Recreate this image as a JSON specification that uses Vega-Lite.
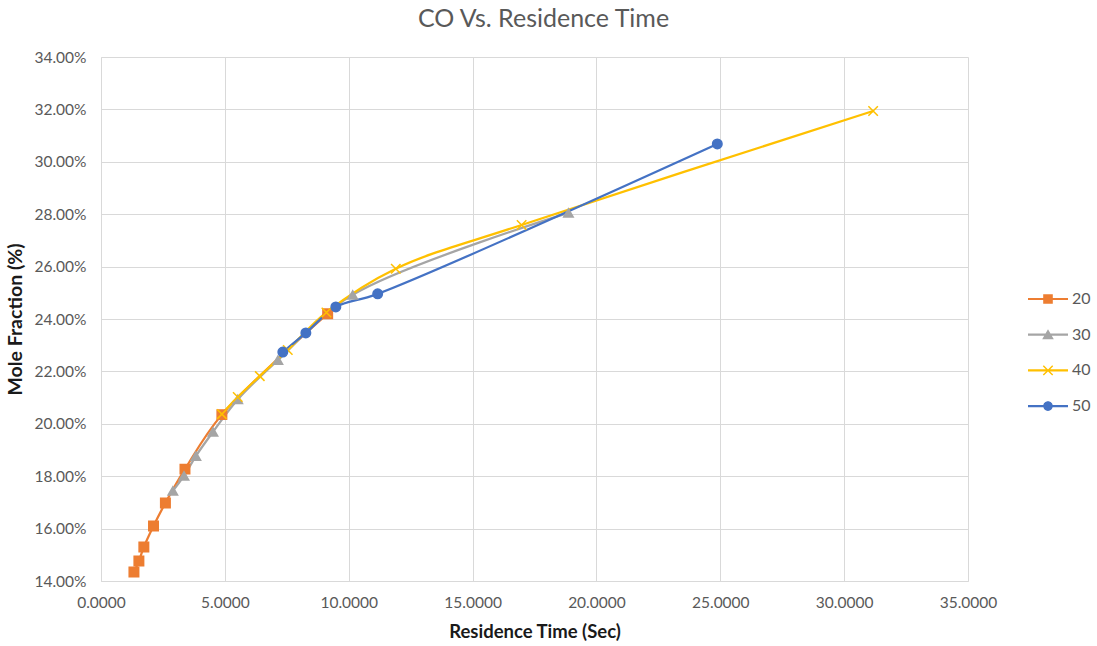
{
  "$schema": "https://vega.github.io/schema/vega-lite/v6.json",
  "autosize": {"type": "none"},
  "padding": {"left": 101, "top": 57, "right": 129, "bottom": 65},
  "width": 867,
  "height": 524,
  "background": "white",
  "title": {
    "text": "CO Vs. Residence Time",
    "anchor": "middle",
    "frame": "group",
    "dx": 9,
    "offset": 18,
    "font": "Lato",
    "fontSize": 25,
    "fontWeight": "normal",
    "color": "#595959"
  },
  "data": {
    "values": [
      {"series": "20", "time": 1.33, "co": 0.1434},
      {"series": "20", "time": 1.53, "co": 0.1476},
      {"series": "20", "time": 1.73, "co": 0.1530},
      {"series": "20", "time": 2.12, "co": 0.1610},
      {"series": "20", "time": 2.60, "co": 0.1698},
      {"series": "20", "time": 3.39, "co": 0.1827},
      {"series": "20", "time": 4.88, "co": 0.2035},
      {"series": "20", "time": 9.15, "co": 0.2420},
      {"series": "30", "time": 2.90, "co": 0.1744},
      {"series": "30", "time": 3.35, "co": 0.1801},
      {"series": "30", "time": 3.83, "co": 0.1877},
      {"series": "30", "time": 4.52, "co": 0.1969},
      {"series": "30", "time": 5.52, "co": 0.2093},
      {"series": "30", "time": 7.14, "co": 0.2243},
      {"series": "30", "time": 10.16, "co": 0.2492},
      {"series": "30", "time": 18.87, "co": 0.2805},
      {"series": "40", "time": 4.88, "co": 0.2037},
      {"series": "40", "time": 5.52, "co": 0.2102},
      {"series": "40", "time": 6.41, "co": 0.2182},
      {"series": "40", "time": 7.54, "co": 0.2282},
      {"series": "40", "time": 9.10, "co": 0.2425},
      {"series": "40", "time": 11.90, "co": 0.2592},
      {"series": "40", "time": 16.98, "co": 0.2759},
      {"series": "40", "time": 31.17, "co": 0.3194},
      {"series": "50", "time": 7.34, "co": 0.2274},
      {"series": "50", "time": 8.27, "co": 0.2347},
      {"series": "50", "time": 9.48, "co": 0.2446},
      {"series": "50", "time": 11.17, "co": 0.2496},
      {"series": "50", "time": 24.88, "co": 0.3068}
    ]
  },
  "encoding": {
    "x": {
      "field": "time",
      "type": "quantitative",
      "title": "Residence Time (Sec)",
      "scale": {"domain": [0, 35], "nice": false, "zero": false},
      "axis": {"values": [0, 5, 10, 15, 20, 25, 30, 35], "format": ".4f", "labelFlush": false, "labelPadding": 14, "titlePadding": 12}
    },
    "y": {
      "field": "co",
      "type": "quantitative",
      "title": "Mole Fraction (%)",
      "scale": {"domain": [0.14, 0.34], "nice": false, "zero": false},
      "axis": {"values": [0.14, 0.16, 0.18, 0.20, 0.22, 0.24, 0.26, 0.28, 0.30, 0.32, 0.34], "format": ".2%", "labelFlush": false, "labelPadding": 15, "titlePadding": 8, "titleFontSize": 19.5}
    }
  },
  "layer": [
    {
      "mark": {"type": "line", "interpolate": "catmull-rom", "strokeWidth": 2.25},
      "encoding": {
        "color": {
          "field": "series", "type": "nominal", "legend": null,
          "scale": {"domain": ["20", "30", "40", "50"], "range": ["#ED7D31", "#A5A5A5", "#FFC000", "#4472C4"]}
        },
        "detail": {"field": "series"}
      }
    },
    {
      "mark": {"type": "point", "filled": true, "size": 90, "strokeWidth": 1.5, "opacity": 1},
      "encoding": {
        "color": {
          "field": "series", "type": "nominal", "legend": null,
          "scale": {"domain": ["20", "30", "40", "50"], "range": ["#ED7D31", "#A5A5A5", "#FFC000", "#4472C4"]}
        },
        "stroke": {
          "field": "series", "type": "nominal", "legend": null,
          "scale": {"domain": ["20", "30", "40", "50"], "range": ["#ED7D31", "#A5A5A5", "#FFC000", "#4472C4"]}
        },
        "shape": {
          "field": "series", "type": "nominal", "legend": null,
          "scale": {"domain": ["20", "30", "40", "50"], "range": ["square", "triangle-up", "M-1,-1L1,1M-1,1L1,-1", "circle"]}
        }
      }
    },
    {
      "mark": {"type": "point", "filled": true, "opacity": 0, "size": 1},
      "encoding": {
        "color": {
          "field": "series", "type": "nominal", "title": null,
          "scale": {"domain": ["20", "30", "40", "50"], "range": ["#ED7D31", "#A5A5A5", "#FFC000", "#4472C4"]}
        },
        "shape": {
          "field": "series", "type": "nominal", "title": null,
          "scale": {
            "domain": ["20", "30", "40", "50"],
            "range": [
              "M-2,-0.11H2V0.11H-2Z M-0.48,-0.48H0.48V0.48H-0.48Z",
              "M-2,-0.11H2V0.11H-2Z M0,-0.55L0.58,0.45L-0.58,0.45Z",
              "M-2,-0.11H2V0.11H-2Z M-0.52,-0.42L-0.42,-0.52L0,-0.1L0.42,-0.52L0.52,-0.42L0.1,0L0.52,0.42L0.42,0.52L0,0.1L-0.42,0.52L-0.52,0.42L-0.1,0Z",
              "M-2,-0.11H2V0.11H-2Z M-0.48,0A0.48,0.48 0 1,1 0.48,0A0.48,0.48 0 1,1 -0.48,0Z"
            ]
          }
        }
      }
    }
  ],
  "resolve": {"scale": {"color": "independent", "shape": "independent", "stroke": "independent"}},
  "config": {
    "font": "Lato",
    "view": {"stroke": null},
    "axis": {
      "domainColor": "#D9D9D9",
      "domainWidth": 1,
      "gridColor": "#D9D9D9",
      "gridWidth": 1,
      "ticks": false,
      "labelFont": "Lato",
      "labelFontSize": 15.5,
      "labelColor": "#595959",
      "titleFont": "Lato",
      "titleFontSize": 18.5,
      "titleFontWeight": "bold",
      "titleColor": "#1a1a1a"
    },
    "legend": {
      "orient": "none",
      "legendX": 937,
      "legendY": 232,
      "padding": 0,
      "symbolSize": 400,
      "symbolOpacity": 1,
      "symbolStrokeWidth": 0,
      "labelOffset": 14,
      "rowPadding": 17.7,
      "labelFont": "Lato",
      "labelFontSize": 16,
      "labelColor": "#595959"
    }
  }
}
